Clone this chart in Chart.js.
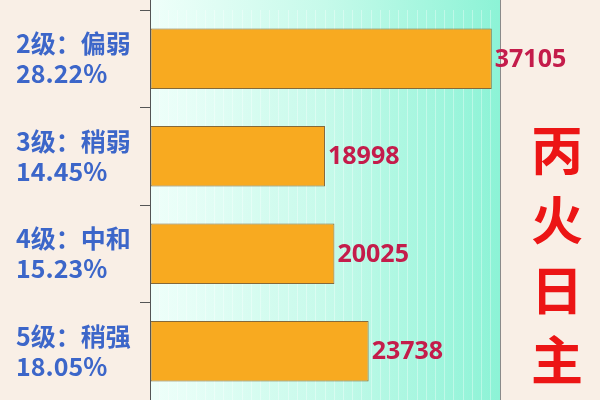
<!DOCTYPE html>
<html>
<head>
<meta charset="utf-8">
<script src="https://cdn.jsdelivr.net/npm/chart.js@4"></script>
<style>
  html, body { margin: 0; padding: 0; background: #f9efe6; }
  #wrap { width: 600px; height: 400px; }
</style>
</head>
<body>
<div id="wrap"><canvas id="myChart"></canvas></div>
<script>
// 数据
var levels = ['2级：偏弱', '3级：稍弱', '4级：中和', '5级：稍强'];
var shares = ['28.22%', '14.45%', '15.23%', '18.05%'];
var counts = [37105, 18998, 20025, 23738];
var sideTitle = ['丙', '火', '日', '主'];

var panelPlugin = {
	id: 'panel',
	beforeDraw: function(chart) {
		var ctx = chart.ctx, a = chart.chartArea, H = chart.height;
		ctx.save();
		ctx.fillStyle = '#f9efe6';
		ctx.fillRect(0, 0, chart.width, H);
		var g = ctx.createLinearGradient(a.left, 0, a.right, 0);
		g.addColorStop(0, '#effffa');
		g.addColorStop(0.5, '#c6faea');
		g.addColorStop(1, '#8cf3d6');
		ctx.fillStyle = g;
		ctx.fillRect(a.left, 0, a.right - a.left, H);
		ctx.restore();
	},
	afterDraw: function(chart) {
		var ctx = chart.ctx, a = chart.chartArea, H = chart.height;
		ctx.save();
		ctx.lineWidth = 1;
		ctx.strokeStyle = '#555';
		ctx.beginPath(); ctx.moveTo(a.left + 0.5, 0); ctx.lineTo(a.left + 0.5, H); ctx.stroke();
		ctx.strokeStyle = '#8a8a8a';
		ctx.beginPath(); ctx.moveTo(a.right + 0.5, 0); ctx.lineTo(a.right + 0.5, H); ctx.stroke();

		// 左侧标签
		var y = chart.scales.y;
		ctx.fillStyle = '#3c66c9';
		ctx.font = 'bold 25px "Noto Sans CJK SC", "Noto Sans", sans-serif';
		ctx.textAlign = 'left';
		ctx.textBaseline = 'middle';
		levels.forEach(function(l, i) {
			var cy = y.getPixelForValue(i);
			ctx.fillText(l, 16, cy - 15);
			ctx.fillText(shares[i], 16, cy + 15);
		});

		// 数值
		var meta = chart.getDatasetMeta(0);
		ctx.fillStyle = '#c41c4b';
		ctx.font = 'bold 25px "Noto Sans", "Noto Sans CJK SC", sans-serif';
		meta.data.forEach(function(bar, i) {
			ctx.fillText(String(counts[i]), bar.x + 3, bar.y + 1);
		});

		// 右侧竖排标题
		ctx.fillStyle = '#ec1515';
		ctx.font = 'bold 52px "Noto Sans CJK SC", sans-serif';
		ctx.textAlign = 'center';
		sideTitle.forEach(function(c, i) {
			ctx.fillText(c, 557, 150 + i * 70);
		});
		ctx.restore();
	}
};

new Chart(document.getElementById('myChart'), {
	type: 'bar',
	data: {
		labels: levels,
		datasets: [{
			label: '人数',
			data: counts,
			backgroundColor: '#f8aa20',
			borderColor: '#85693a',
			borderWidth: 1,
			borderSkipped: false,
			barPercentage: 0.62,
			categoryPercentage: 1
		}]
	},
	options: {
		indexAxis: 'y',
		responsive: true,
		maintainAspectRatio: false,
		animation: false,
		layout: { padding: { left: 140, right: 100, top: 10, bottom: -2 } },
		plugins: {
			legend: { display: false },
			tooltip: { enabled: false }
		},
		scales: {
			x: {
				min: 0,
				max: 38000,
				ticks: { display: false, stepSize: 1000 },
				border: { display: false },
				grid: { color: 'rgba(255,255,255,0.35)', drawTicks: false }
			},
			y: {
				ticks: { display: false },
				border: { display: false },
				grid: {
					offset: true,
					drawOnChartArea: false,
					tickLength: 10,
					color: '#555'
				}
			}
		}
	},
	plugins: [panelPlugin]
});
</script>
</body>
</html>
